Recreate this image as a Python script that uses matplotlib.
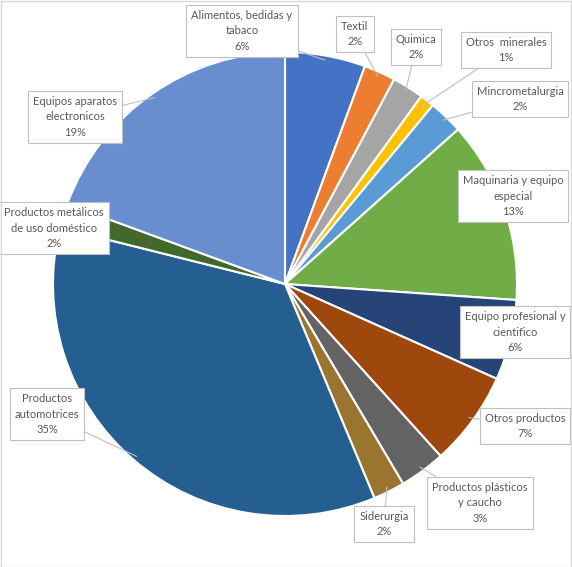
import matplotlib
matplotlib.use("Agg")
import matplotlib.pyplot as plt
from matplotlib.patches import Rectangle
import numpy as np

categories = ["Alimentos, bedidas y\ntabaco", "Textil", "Quimica", "Otros  minerales",
              "Mincrometalurgia", "Maquinaria y equipo\nespecial", "Equipo profesional y\ncientifico",
              "Otros productos", "Productos plásticos\ny caucho", "Siderurgia",
              "Productos\nautomotrices", "Productos metálicos\nde uso doméstico",
              "Equipos aparatos\nelectronicos"]
values = [5.6, 2.2, 2.2, 1.0, 2.4, 12.7, 5.6, 6.6, 3.2, 2.2, 35.2, 1.7, 19.4]
pct_labels = ["6%", "2%", "2%", "1%", "2%", "13%", "6%", "7%", "3%", "2%", "35%", "2%", "19%"]
colors = ["#4472C4", "#ED7D31", "#A5A5A5", "#FFC000", "#5B9BD5", "#70AD47", "#264478",
          "#9E480E", "#636363", "#997530", "#255E91", "#43682B", "#698ED0"]

# label box centers in pixel coordinates (x, y from top)
label_pos = [(242, 31), (355, 34), (416, 47), (506, 50), (520, 99), (513, 196), (515, 332),
             (525, 426), (480, 503), (384, 524), (47, 414), (54, 228), (75, 117)]

W, H = 572, 567
fig = plt.figure(figsize=(W / 100, H / 100), dpi=100)
ax = fig.add_axes([0, 0, 1, 1])
ax.axis("off")

cx, cy, r = 285, H - 284, 232
wedges, _ = ax.pie(values, colors=colors, startangle=90, counterclock=False,
                   center=(cx, cy), radius=r,
                   wedgeprops=dict(edgecolor="white", linewidth=1.5))
ax.set_xlim(0, W)
ax.set_ylim(0, H)
ax.set_aspect("equal")

for w, cat, pct, (lx, ly) in zip(wedges, categories, pct_labels, label_pos):
    ang = np.deg2rad((w.theta1 + w.theta2) / 2)
    px = cx + r * 0.98 * np.cos(ang)
    py = cy + r * 0.98 * np.sin(ang)
    ax.annotate(cat + "\n" + pct, xy=(px, py), xytext=(lx, H - ly),
                ha="center", va="center", multialignment="center",
                fontsize=8, color="#595959", family=["Lato", "DejaVu Sans"],
                linespacing=1.5,
                bbox=dict(boxstyle="square,pad=0.45", fc="white", ec="#bfbfbf", lw=0.8),
                arrowprops=dict(arrowstyle="-", color="#bfbfbf", lw=0.8,
                                shrinkA=0, shrinkB=0),
                zorder=5)

ax.add_patch(Rectangle((0.5, 0.5), W - 1.5, H - 1.5, fill=False, ec="#d9d9d9", lw=1,
                       zorder=10))

fig.savefig("out.png", dpi=100)
